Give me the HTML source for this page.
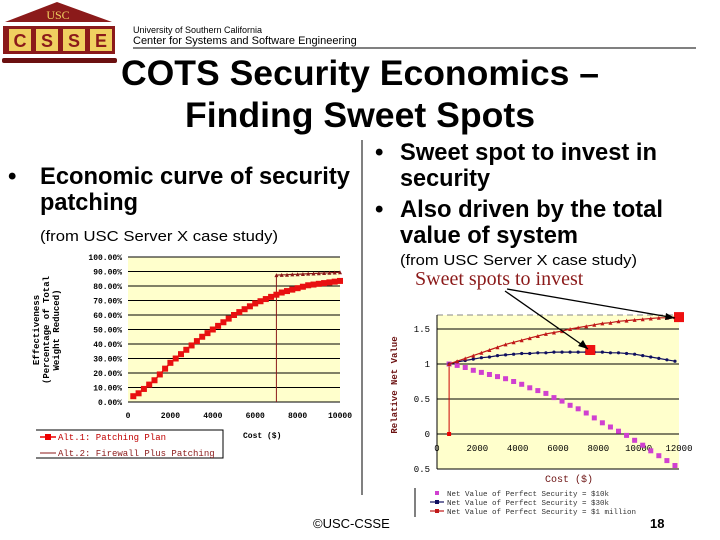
<!DOCTYPE html>
<html><head><meta charset="utf-8"><style>
html,body{margin:0;padding:0;background:#fff;}
svg{display:block;font-family:"Liberation Sans",Arial,sans-serif;}
</style></head><body>
<svg id="s" width="720" height="540" viewBox="0 0 720 540">
<g>
<polygon points="5,22 57,2 112,22" fill="#8b1a1a"/>
<text x="58" y="19" font-family="Liberation Serif,serif" font-size="12" fill="#f0d060" text-anchor="middle">USC</text>
<rect x="3" y="26" width="112" height="28" fill="#8b1a1a"/>
<rect x="9" y="29" width="22" height="22" fill="#f0d060"/><rect x="36" y="29" width="22" height="22" fill="#f0d060"/>
<rect x="63" y="29" width="22" height="22" fill="#f0d060"/><rect x="90" y="29" width="22" height="22" fill="#f0d060"/>
<text x="20" y="47" font-size="18" font-weight="bold" fill="#8b1a1a" text-anchor="middle">C</text>
<text x="47" y="47" font-size="18" font-weight="bold" fill="#8b1a1a" text-anchor="middle">S</text>
<text x="74" y="47" font-size="18" font-weight="bold" fill="#8b1a1a" text-anchor="middle">S</text>
<text x="101" y="47" font-size="18" font-weight="bold" fill="#8b1a1a" text-anchor="middle">E</text>
<rect x="2" y="58" width="115" height="5" rx="2" fill="#6b1010"/>
</g>
<text x="133" y="33" font-size="9">University of Southern California</text>
<text x="133" y="44" font-size="11">Center for Systems and Software Engineering</text>
<line x1="133" y1="48" x2="696" y2="48" stroke="#000" stroke-width="1"/>
<g font-size="35" font-weight="bold" text-anchor="middle">
<text x="360" y="85" textLength="478" lengthAdjust="spacingAndGlyphs">COTS Security Economics –</text>
<text x="360" y="127" textLength="350" lengthAdjust="spacingAndGlyphs">Finding Sweet Spots</text>
</g>
<line x1="362" y1="140" x2="362" y2="495" stroke="#000" stroke-width="1"/>
<g font-size="24" font-weight="bold">
<text x="8" y="184">•</text><text x="40" y="184" textLength="310" lengthAdjust="spacingAndGlyphs">Economic curve of security</text>
<text x="40" y="210" textLength="98" lengthAdjust="spacingAndGlyphs">patching</text>
</g>
<text x="40" y="241" font-size="15" textLength="238" lengthAdjust="spacingAndGlyphs">(from USC Server X case study)</text>
<g font-size="24" font-weight="bold">
<text x="375" y="160">•</text><text x="400" y="160" textLength="257" lengthAdjust="spacingAndGlyphs">Sweet spot to invest in</text>
<text x="400" y="186" textLength="90" lengthAdjust="spacingAndGlyphs">security</text>
<text x="375" y="217">•</text><text x="400" y="217" textLength="263" lengthAdjust="spacingAndGlyphs">Also driven by the total</text>
<text x="400" y="243" textLength="178" lengthAdjust="spacingAndGlyphs">value of system</text>
</g>
<text x="400" y="265" font-size="15" textLength="237" lengthAdjust="spacingAndGlyphs">(from USC Server X case study)</text>
<text x="415" y="285" font-family="Liberation Serif,serif" font-size="20" fill="#8b1a1a">Sweet spots to invest</text>
<g id="left"></g>
<g id="right"></g>
<line x1="507" y1="289" x2="675" y2="318" stroke="#000" stroke-width="1.3"/>
<polygon points="675,318 666,313 665,320"/>
<line x1="505" y1="291" x2="588" y2="349" stroke="#000" stroke-width="1.3"/>
<polygon points="588,349 578,346 583,340"/>
<text x="313" y="528" font-size="13">©USC-CSSE</text>
<text x="650" y="528" font-size="13" font-weight="bold">18</text>
</svg>
<script>
// Left chart data
const leftCost1 = [250,500,750,1000,1250,1500,1750,2000,2250,2500,2750,3000,3250,3500,3750,4000,4250,4500,4750,5000,5250,5500,5750,6000,6250,6500,6750,7000,7250,7500,7750,8000,8250,8500,8750,9000,9250,9500,9750,10000];
const leftEff1 = [4,6,9,12,15,19,23,27,30,33,36,39,42,45,47.5,50,52.5,55,57.5,60,62,64,66,68,69.5,71,72.5,74,75.5,76.5,77.5,78.5,79.5,80.5,81,81.5,82,82.5,83,83.5];
const leftCost2 = [7000,7250,7500,7750,8000,8250,8500,8750,9000,9250,9500,9750,10000];
const leftEff2 = [87.5,87.7,87.8,88,88.1,88.3,88.5,88.6,88.8,89,89.1,89.3,89.5];
const leftYTicks = ["0.00%","10.00%","20.00%","30.00%","40.00%","50.00%","60.00%","70.00%","80.00%","90.00%","100.00%"];
const leftXTicks = [0,2000,4000,6000,8000,10000];
// Right chart data
const rightCost = [600,1000,1400,1800,2200,2600,3000,3400,3800,4200,4600,5000,5400,5800,6200,6600,7000,7400,7800,8200,8600,9000,9400,9800,10200,10600,11000,11400,11800];
const val10k = [1.0,0.98,0.95,0.91,0.88,0.85,0.82,0.79,0.75,0.71,0.66,0.62,0.58,0.52,0.47,0.41,0.36,0.30,0.23,0.16,0.10,0.04,-0.02,-0.09,-0.16,-0.24,-0.31,-0.38,-0.45];
const val30k = [1.0,1.03,1.05,1.07,1.09,1.10,1.12,1.13,1.14,1.15,1.15,1.16,1.16,1.17,1.17,1.17,1.17,1.17,1.17,1.17,1.16,1.16,1.15,1.14,1.12,1.10,1.08,1.06,1.04];
const val1m = [1.0,1.04,1.08,1.12,1.16,1.20,1.24,1.28,1.31,1.34,1.37,1.40,1.43,1.45,1.47,1.50,1.52,1.54,1.56,1.58,1.59,1.61,1.62,1.63,1.64,1.65,1.66,1.66,1.67];
const sweetCost = [7600,12000];
const sweetVal = [1.2,1.67];
const rightYTicks = [-0.5,0,0.5,1,1.5];
const rightYLabels = ["0.5","0","0.5","1","1.5"];
const rightXTicks = [0,2000,4000,6000,8000,10000,12000];

const NS="http://www.w3.org/2000/svg";
function mk(p,t,a){const e=document.createElementNS(NS,t);for(const k in a)e.setAttribute(k,a[k]);p.appendChild(e);return e;}
// LEFT
const L=document.getElementById('left');
const lx=v=>128+(v/10000)*212, ly=v=>402-(v/100)*145;
let e=mk(L,'rect',{x:128,y:257,width:212,height:145,fill:'#ffffcc'});


leftYTicks.forEach((t,i)=>{const y=ly(i*10);
 let g=mk(L,'line',{x1:128,x2:340,y1:y,y2:y,stroke:'#000','stroke-width':1});
 
 
 let tx=mk(L,'text',{x:122,y:y+3,'font-size':8,'font-family':'Liberation Mono,monospace','text-anchor':'end','font-weight':'bold'});tx.textContent=t;
 
 });
leftXTicks.forEach(t=>{let tx=mk(L,'text',{x:lx(t),y:418,'font-size':8,'font-family':'Liberation Mono,monospace','text-anchor':'middle','font-weight':'bold'});tx.textContent=t;
 
 });
e=mk(L,'line',{x1:lx(7000),x2:lx(7000),y1:ly(0),y2:ly(87.5),stroke:'#8b1a1a','stroke-width':1});


e=mk(L,'polyline',{points:leftCost1.map((c,i)=>lx(c)+','+ly(leftEff1[i])).join(' '),fill:'none',stroke:'#e00','stroke-width':1.5});


leftCost1.forEach((c,i)=>{let r=mk(L,'rect',{x:lx(c)-3,y:ly(leftEff1[i])-3,width:6,height:6,fill:'#e81010'});
 
 });
e=mk(L,'polyline',{points:leftCost2.map((c,i)=>lx(c)+','+ly(leftEff2[i])).join(' '),fill:'none',stroke:'#8b1a1a','stroke-width':1.2});


leftCost2.forEach((c,i)=>{let r=mk(L,'polygon',{points:`${lx(c)-2},${ly(leftEff2[i])+2} ${lx(c)+2},${ly(leftEff2[i])+2} ${lx(c)},${ly(leftEff2[i])-2}`,fill:'#8b1a1a'});
 
 });
e=mk(L,'text',{x:48,y:330,'font-size':9,'font-family':'Liberation Mono,monospace','text-anchor':'middle','font-weight':'bold',transform:'rotate(-90 48 330)'});
e.innerHTML='<tspan x="48" dy="-9">Effectiveness</tspan><tspan x="48" dy="10">(Percentage of Total</tspan><tspan x="48" dy="10">Weight Reduced)</tspan>';


e=mk(L,'text',{x:243,y:438,'font-size':8,'font-weight':'bold','font-family':'Liberation Mono,monospace'});e.textContent='Cost ($)';


e=mk(L,'polyline',{points:'36,430 223,430 223,458 36,458',fill:'none',stroke:'#000','stroke-width':1});


e=mk(L,'line',{x1:40,x2:56,y1:437,y2:437,stroke:'#e00','stroke-width':1.5});mk(L,'rect',{x:45,y:434,width:6,height:6,fill:'#e00'});
e=mk(L,'text',{x:58,y:440,'font-size':9,'font-family':'Liberation Mono,monospace',fill:'#c00000'});e.textContent='Alt.1: Patching Plan';


mk(L,'line',{x1:40,x2:56,y1:453,y2:453,stroke:'#8b1a1a','stroke-width':1});
e=mk(L,'text',{x:58,y:456,'font-size':9,'font-family':'Liberation Mono,monospace',fill:'#8b1a1a'});e.textContent='Alt.2: Firewall Plus Patching';


// RIGHT
const R=document.getElementById('right');
const rx=v=>437+(v/12000)*242, ry=v=>434-v*70;
e=mk(R,'rect',{x:437,y:315,width:242,height:154,fill:'#ffffcc'});


e=mk(R,'line',{x1:437,x2:679,y1:315,y2:315,stroke:'#888','stroke-dasharray':'6,4'});


mk(R,'line',{x1:437,x2:437,y1:315,y2:469,stroke:'#000'});
rightYTicks.forEach((t,i)=>{const y=ry(t);
 let g=mk(R,'line',{x1:437,x2:679,y1:y,y2:y,stroke:'#000','stroke-width':1});
 
 
 let tx=mk(R,'text',{x:430,y:y+3,'font-size':9,'font-family':'Liberation Mono,monospace','text-anchor':'end'});tx.textContent=rightYLabels[i];
 
 });
rightXTicks.forEach(t=>{let tx=mk(R,'text',{x:rx(t),y:451,'font-size':9,'font-family':'Liberation Mono,monospace','text-anchor':'middle'});tx.textContent=t;
 
 });
e=mk(R,'line',{x1:rx(600),x2:rx(600),y1:ry(0),y2:ry(1),stroke:'#c00','stroke-width':1});


e=mk(R,'rect',{x:rx(600)-2,y:ry(0)-2,width:4,height:4,fill:'#e00'});


function series(vals,color,shape,name){
 let p=mk(R,'polyline',{points:rightCost.map((c,i)=>rx(c)+','+ry(vals[i])).join(' '),fill:'none',stroke:color,'stroke-width':shape==='sq'?0:1.2});
 
 
 rightCost.forEach((c,i)=>{const x=rx(c),y=ry(vals[i]);let m;
  if(shape==='sq')m=mk(R,'rect',{x:x-2.5,y:y-2.5,width:5,height:5,fill:color});
  else if(shape==='tri')m=mk(R,'polygon',{points:`${x-2},${y+2} ${x+2},${y+2} ${x},${y-2}`,fill:color});
  else m=mk(R,'circle',{cx:x,cy:y,r:1.6,fill:color});
  
  });
}
series(val10k,'#d040d0','sq','series-10k');
series(val30k,'#101060','dot','series-30k');
series(val1m,'#c01818','tri','series-1m');
sweetCost.forEach((c,i)=>{let m=mk(R,'rect',{x:rx(c)-5,y:ry(sweetVal[i])-5,width:10,height:10,fill:'#ee1111'});
 
 });
e=mk(R,'text',{x:397,y:385,'font-size':9,'font-family':'Liberation Mono,monospace','font-weight':'bold',fill:'#6b1010','text-anchor':'middle',transform:'rotate(-90 397 385)'});e.textContent='Relative Net Value';


e=mk(R,'text',{x:545,y:482,'font-size':10,'font-family':'Liberation Mono,monospace',fill:'#6b1010'});e.textContent='Cost ($)';


mk(R,'line',{x1:415,x2:415,y1:488,y2:517,stroke:'#000'});
const lg=[['#d040d0','Net Value of Perfect Security = $10k'],['#101060','Net Value of Perfect Security = $30k'],['#c01818','Net Value of Perfect Security = $1 million']];
lg.forEach((l,i)=>{const y=493+i*9;
 mk(R,'line',{x1:430,x2:444,y1:y,y2:y,stroke:l[0],'stroke-width':i?1.2:0});
 mk(R,'rect',{x:435,y:y-2,width:4,height:4,fill:l[0]});
 let t=mk(R,'text',{x:447,y:y+3,'font-size':7.5,'font-family':'Liberation Mono,monospace',fill:'#333'});t.textContent=l[1];
 
 });
</script>
</body></html>
